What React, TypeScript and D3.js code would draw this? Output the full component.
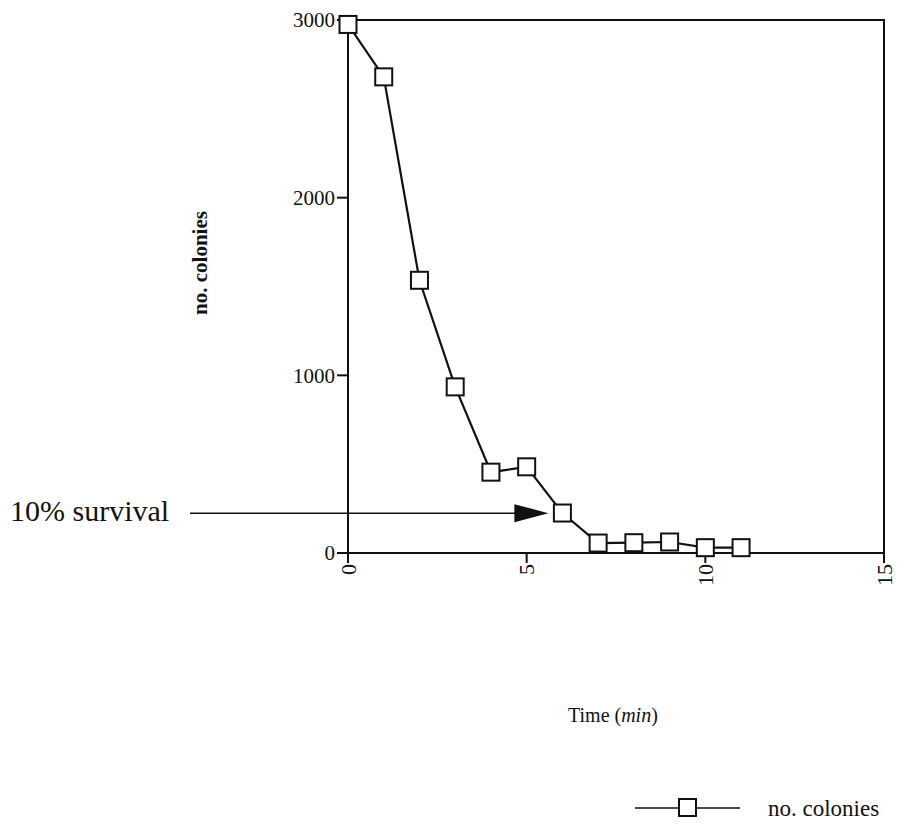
import React from "react";
import * as d3 from "d3";

const times = [0, 1, 2, 3, 4, 5, 6, 7, 8, 9, 10, 11];
const colonies = [2975, 2680, 1535, 935, 455, 485, 225, 56, 58, 62, 30, 30];
const xTicks = [0, 5, 10, 15];
const yTicks = [0, 1000, 2000, 3000];
const survivalLevel = 230;

export default function App() {
  const W = 900, H = 825;
  const x = d3.scaleLinear().domain([0, 15]).range([348, 884]);
  const y = d3.scaleLinear().domain([0, 3000]).range([553, 20]);
  const line = d3.line<number>().x((_, i) => x(times[i])).y((d) => y(d));
  const font = "'Liberation Serif', 'Times New Roman', serif";
  const ay = y(survivalLevel) + 1;
  const tipX = x(6) - 14;
  return (
    <svg width={W} height={H} style={{ position: "absolute", left: 0, top: 0, background: "#fff" }}>
      <g stroke="#111" strokeWidth={2} fill="none">
        <path d={`M${x(0)},${y(3000)}H${x(15)}V${y(0)}H${x(0)}Z`} />
        {yTicks.map((t) => (
          <line key={t} x1={x(0) - 11} x2={x(0)} y1={y(t)} y2={y(t)} />
        ))}
        {xTicks.map((t) => (
          <line key={t} x1={x(t)} x2={x(t)} y1={y(0)} y2={y(0) + 10} />
        ))}
      </g>
      {yTicks.map((t) => (
        <text key={t} x={x(0) - 13} y={y(t)} dy="0.35em" textAnchor="end" fontFamily={font} fontSize={21} fill="#111">
          {t}
        </text>
      ))}
      {xTicks.map((t) => (
        <text key={t} transform={`translate(${x(t)},${y(0) + 11}) rotate(-90)`} dy="0.35em" textAnchor="end" fontFamily={font} fontSize={22} fill="#111">
          {t}
        </text>
      ))}
      <path d={line(colonies) || ""} stroke="#111" strokeWidth={2.2} fill="none" />
      {colonies.map((v, i) => (
        <rect key={i} x={x(times[i]) - 8.5} y={y(v) - 8.5} width={17} height={17} fill="#fff" stroke="#111" strokeWidth={2} />
      ))}
      {/* 10% survival annotation */}
      <line x1={190} x2={tipX - 30} y1={ay} y2={ay} stroke="#111" strokeWidth={1.5} />
      <path d={`M${tipX - 34},${ay - 9}L${tipX},${ay}L${tipX - 34},${ay + 9}Z`} fill="#111" />
      <text x={10} y={ay + 8} fontFamily={font} fontSize={30} fill="#111">10% survival</text>
      <text transform={`translate(207,263) rotate(-90)`} textAnchor="middle" fontFamily={font} fontSize={21} fontWeight="bold" fill="#111">
        no. colonies
      </text>
      <text x={568} y={722} fontFamily={font} fontSize={20} fill="#111">
        Time (<tspan fontStyle="italic">min</tspan>)
      </text>
      <line x1={635} x2={740} y1={808} y2={808} stroke="#111" strokeWidth={1.5} />
      <rect x={679} y={799} width={17} height={17} fill="#fff" stroke="#111" strokeWidth={2} />
      <text x={768} y={816} fontFamily={font} fontSize={23} fill="#111">no. colonies</text>
    </svg>
  );
}
